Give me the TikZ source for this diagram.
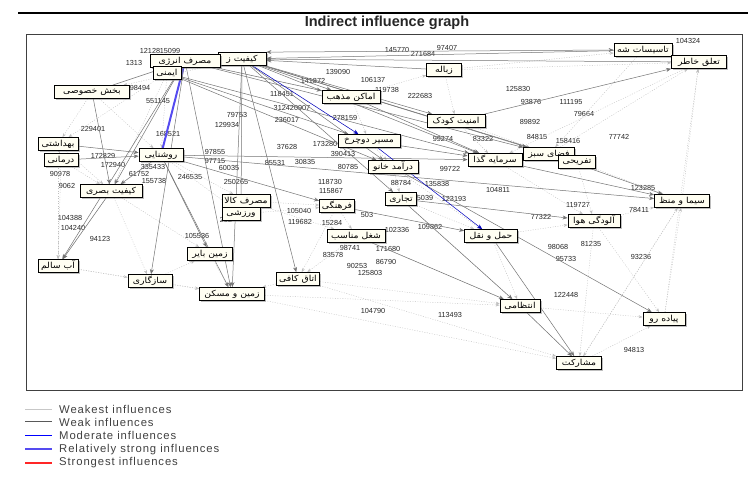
\documentclass[tikz,border=0pt]{standalone}
\usepackage{fontspec}
\setmainfont{Liberation Sans}
\newfontfamily\arabicfont[Script=Arabic,FakeStretch=1.12]{DejaVu Sans}
\TeXXeTstate=1
\usetikzlibrary{shadows,arrows.meta}
\pgfdeclarelayer{bg}
\pgfsetlayers{bg,main}
\definecolor{strongblue}{RGB}{85,75,240}
\newcommand{\fatext}[1]{\arabicfont\beginR #1\endR}
\tikzset{
  lbl/.style={draw=black, line width=0.8pt, fill=yellow!5, inner sep=1pt,
    minimum height=13pt, font=\fontsize{8.3}{9}\selectfont,
    drop shadow={shadow xshift=1.8pt, shadow yshift=-1.8pt, fill=black!50}},
  num/.style={font=\fontsize{7.3}{8}\selectfont, text=black!85, inner sep=0pt},
  weak/.style={draw=black!55, line width=0.5pt, -{Stealth[length=5pt,width=4pt]}},
  weakb/.style={draw=black!55, line width=0.5pt, {Stealth[length=5pt,width=4pt]}-{Stealth[length=5pt,width=4pt]}},
  weakest/.style={draw=black!25, line width=0.4pt, dash pattern=on 1pt off 1.5pt, -{Stealth[length=4pt,width=3pt]}},
  moderate/.style={draw=blue!75!black, line width=0.5pt, -{Stealth[length=5pt,width=4pt]}},
  rstrong/.style={draw=strongblue, line width=2pt},
  legtext/.style={anchor=west, font=\fontsize{11.3}{12}\selectfont\addfontfeature{LetterSpace=8}, text=black!75, inner sep=0pt}
}
\begin{document}
\begin{tikzpicture}[x=1pt,y=-1pt]
\useasboundingbox (0,0) rectangle (750,477);
% header line, title, frame
\draw[line width=1.6pt] (18,13) -- (748,13);
\node[font=\bfseries\fontsize{14.5}{16}\selectfont, text=black!85] (title) at (387,23) {Indirect influence graph};
\draw[black!75, line width=0.9pt] (26,34) rectangle (742,390);

% nodes
\node[lbl, minimum width=48pt] (kz) at (242,59) {\fatext{کیفیت ز}};
\node[lbl, minimum width=70pt] (me) at (185,61) {\fatext{مصرف انرژی}};
\node[lbl, minimum width=28pt] (im) at (167,73) {\fatext{ایمنی}};
\node[lbl, minimum width=75pt] (bk) at (92,92) {\fatext{بخش خصوصی}};
\node[lbl, minimum width=40pt] (bh) at (58,144) {\fatext{بهداشتی}};
\node[lbl, minimum width=34pt] (dr) at (61,160) {\fatext{درمانی}};
\node[lbl, minimum width=44pt] (ro) at (161,155) {\fatext{روشنایی}};
\node[lbl, minimum width=62pt] (kb) at (111,191) {\fatext{کیفیت بصری}};
\node[lbl, minimum width=40pt] (ab) at (58,266) {\fatext{آب سالم}};
\node[lbl, minimum width=44pt] (sz) at (150,281) {\fatext{سازگاری}};
\node[lbl, minimum width=45pt] (zb) at (210,254) {\fatext{زمین بایر}};
\node[lbl, minimum width=65pt] (zm) at (232,294) {\fatext{زمین و مسکن}};
\node[lbl, minimum width=48pt] (mk) at (246,201) {\fatext{مصرف کالا}};
\node[lbl, minimum width=38pt] (vr) at (241,214) {\fatext{ورزشی}};
\node[lbl, minimum width=35pt] (fr) at (337,206) {\fatext{فرهنگی}};
\node[lbl, minimum width=58pt] (sh) at (356,236) {\fatext{شغل مناسب}};
\node[lbl, minimum width=43pt] (ak) at (298,279) {\fatext{اتاق کافی}};
\node[lbl, minimum width=31pt] (tj) at (401,199) {\fatext{تجاری}};
\node[lbl, minimum width=50pt] (da) at (393,167) {\fatext{درآمد خانو}};
\node[lbl, minimum width=62pt] (md) at (369,141) {\fatext{مسیر دوچرخ}};
\node[lbl, minimum width=58pt] (am) at (351,97) {\fatext{اماکن مذهب}};
\node[lbl, minimum width=35pt] (zl) at (444,70) {\fatext{زباله}};
\node[lbl, minimum width=58pt] (ek) at (456,121) {\fatext{امنیت کودک}};
\node[lbl, minimum width=54pt] (sg) at (495,160) {\fatext{سرمایه گذا}};
\node[lbl, minimum width=51pt] (fs) at (549,154) {\fatext{فضای سبز}};
\node[lbl, minimum width=37pt] (tf) at (577,162) {\fatext{تفریحی}};
\node[lbl, minimum width=58pt] (ts) at (643,50) {\fatext{تاسیسات شه}};
\node[lbl, minimum width=55pt] (tk) at (699,62) {\fatext{تعلق خاطر}};
\node[lbl, minimum width=55pt] (sm) at (682,201) {\fatext{سیما و منظ}};
\node[lbl, minimum width=52pt] (ah) at (594,221) {\fatext{آلودگی هوا}};
\node[lbl, minimum width=53pt] (hn) at (491,236) {\fatext{حمل و نقل}};
\node[lbl, minimum width=40pt] (en) at (520,306) {\fatext{انتظامی}};
\node[lbl, minimum width=42pt] (pr) at (664,319) {\fatext{پیاده رو}};
\node[lbl, minimum width=45pt] (ms) at (579,363) {\fatext{مشارکت}};

% number labels
\begin{pgfonlayer}{bg}
\foreach \t/\x/\y [count=\i] in {
12128/150/51, 15099/170/51, 1313/134/63, 98494/140/88, 551145/158/101, 229401/93/129,
168521/168/134, 79753/237/115, 129934/227/125, 145770/397/50, 271684/423/54, 97407/447/48,
139090/338/72, 141872/313/81, 106137/373/80, 119738/387/90, 222683/420/96, 118451/282/94,
312420907/292/108, 236017/287/120, 278159/345/118, 125830/518/89, 93876/531/102,
111195/571/102, 79664/584/114, 89892/530/122, 84815/537/137, 158416/568/141, 77742/619/137,
104324/688/41, 172940/113/165, 172829/103/156, 90978/60/174, 9062/67/186, 335433/153/167,
61752/139/174, 155738/154/181, 246535/190/177, 97855/215/152, 97715/215/161, 60035/229/168,
250265/236/182, 104388/70/218, 104240/73/228, 94123/100/239, 105536/197/236, 202/226/220,
37628/287/147, 173280/325/144, 390413/343/154, 80785/348/167, 85531/275/163, 30835/305/162,
118730/330/182, 115867/331/191, 105040/299/211, 119682/300/222, 15284/332/223, 503/367/215,
88784/401/183, 135838/437/184, 99722/450/169, 123193/454/199, 5039/425/198, 102336/397/230,
109862/430/227, 98741/350/248, 171680/388/249, 83578/333/255, 90253/357/266, 86790/386/262,
125803/370/273, 104790/373/311, 113493/450/315, 123285/643/188, 78411/639/210, 119727/578/205,
77322/541/217, 98068/558/247, 81235/591/244, 95733/566/259, 93236/641/257, 104811/498/190,
83322/483/139, 99274/443/139, 122448/566/295, 94813/634/350}
  \node[num] (n\i) at (\x,\y) {\t};

% weakest influences
\foreach \a/\b in {bk/bh, bh/dr, dr/kb, kb/ab, ab/sz, sz/zm, zb/zm, ak/zm, zm/ms, ms/pr,
  pr/sm, sm/tk, tk/ts, fs/tk, ah/sm, ah/pr, hn/en, en/pr, tj/hn, fr/sh, sh/ak, da/tj, md/da,
  am/md, zl/ek, ek/sg, sg/fs, fs/tf, tf/ah, kz/bk, me/bh, im/kb, ro/vr, vr/fr, mk/fr, zl/ts,
  kb/zb, ab/zm, bh/kb, dr/ab, ro/mk, mk/sh, fr/ak, sh/en, tj/en, da/hn, sg/ah, tf/sm, ek/fs,
  am/zl, me/am, im/ro, bk/ro, kz/md, zl/tk, hn/ah, en/ms, ak/en, sz/zb, ms/sm, pr/tk,
  ts/fs, tk/sg, sm/ms, ah/ms, zm/en, ak/ms, kb/sz, bh/ab}
  \draw[weakest] (\a) -- (\b);

% weak influences
\foreach \a/\b in {ts/kz, tk/kz, zl/kz, ek/tk, me/am, kz/sg, kz/fs, kz/tf, kz/ek, im/md, im/da,
  ro/sg, ro/sm, ro/kb, bh/ro, dr/ro, bk/me, kz/zm, me/zm, ro/zm, me/sz, me/ab, ro/zb, kz/vr,
  kz/ak, hn/ms, en/ms, sh/en, da/pr, sg/sm, fs/sm, tj/ah, kz/tj, am/sg, md/sg, bk/kb, im/sg,
  ro/fr, kz/da, me/kb, kb/ab, fr/hn, tj/en, me/fs, kz/am}
  \draw[weak] (\a) -- (\b);
\draw[weakb] (kz.north east) -- (ts.west);

% moderate influences
\draw[moderate] (kz) -- (md);
\draw[moderate] (md) -- (hn);
% relatively strong
\draw[rstrong] (ro) -- (me);
\end{pgfonlayer}

% legend
\draw[black!22, line width=1pt] (25,409) -- (52,409);
\draw[black!65, line width=0.6pt] (25,421) -- (52,421);
\draw[blue, line width=0.9pt] (25,435) -- (52,435);
\draw[strongblue, line width=1.8pt] (25,449) -- (52,449);
\draw[red!85, line width=1.2pt] (25,463) -- (52,463);
\node[legtext] (lg1) at (59,409) {Weakest influences};
\node[legtext] (lg2) at (59,422) {Weak influences};
\node[legtext] (lg3) at (59,435) {Moderate influences};
\node[legtext] (lg4) at (59,450) {Relatively strong influences};
\node[legtext] (lg5) at (59,463) {Strongest influences};
\end{tikzpicture}
\end{document}
